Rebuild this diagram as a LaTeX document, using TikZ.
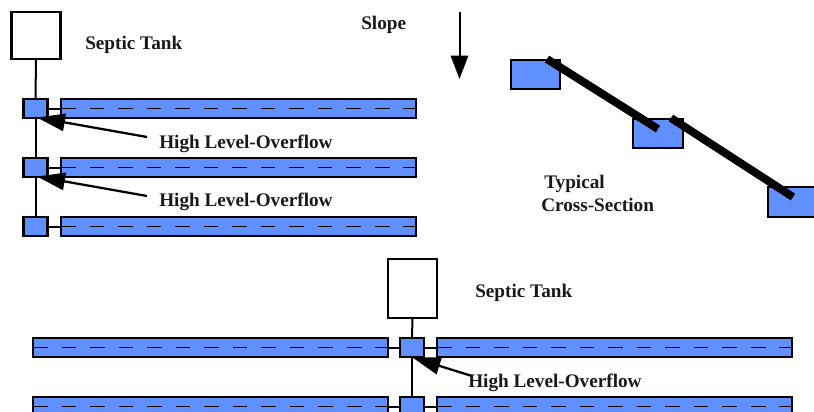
\documentclass[tikz,border=0pt]{standalone}
\usepackage{fontspec}
\setmainfont{Liberation Serif}
\usetikzlibrary{arrows.meta}
\definecolor{pipeblue}{RGB}{96,144,255}
\tikzset{
  px/.style={x=0.75pt,y=-0.75pt},
  tank/.style={draw=black,fill=white,line width=1.9pt,inner sep=0,outer sep=0},
  bluebox/.style={draw=black,fill=pipeblue,line width=1.9pt,inner sep=0,outer sep=0},
  pipe/.style={draw=black,line width=1.5pt},
  dashpipe/.style={draw=black,line width=1pt,dash pattern=on 11pt off 10.4pt},
  thick bar/.style={draw=black,line width=6pt},
  overflow/.style={draw=black,line width=1.7pt,-{Triangle[length=21pt,width=13pt]}},
  label/.style={font=\bfseries\fontsize{14.4pt}{16pt}\selectfont,text=black!90,anchor=base west,inner sep=0},
}
\newcommand{\pxbox}[6]{\node[#1,minimum width=#4*0.75pt,minimum height=#5*0.75pt,anchor=north west] (#2) at #3 {};}
\begin{document}
\begin{tikzpicture}[px]
\useasboundingbox (0,0) rectangle (814,411);
\clip (0,0) rectangle (814,411);
% top-left system
\pxbox{tank}{tA}{(11.5,12)}{49}{47}{}
\pxbox{bluebox}{a1}{(23.5,99)}{24}{19}{}
\pxbox{bluebox}{a2}{(23.5,158)}{24}{19}{}
\pxbox{bluebox}{a3}{(23.5,217)}{24}{19}{}
\pxbox{bluebox}{b1}{(61,99)}{355}{19}{}
\pxbox{bluebox}{b2}{(61,158)}{355}{19}{}
\pxbox{bluebox}{b3}{(61,217)}{355}{19}{}
\draw[pipe] (tA.south) -- (a1.north);
\draw[pipe] (a1.south) -- (a2.north);
\draw[pipe] (a2.south) -- (a3.north);
\draw[pipe] (a1.east) -- (b1.west);
\draw[pipe] (a2.east) -- (b2.west);
\draw[pipe] (a3.east) -- (b3.west);
\draw[dashpipe] (b1.west) -- (b1.east);
\draw[dashpipe] (b2.west) -- (b2.east);
\draw[dashpipe] (b3.west) -- (b3.east);
\node[label] (st1) at (85,49) {Septic Tank};
\node[label] (hl1) at (159,148) {High Level-Overflow};
\node[label] (hl2) at (159,206) {High Level-Overflow};
\coordinate (o1) at (147,137);
\coordinate (o2) at (147,196);
\coordinate (t1) at (37,117.5);
\coordinate (t2) at (37,176.5);
\draw[overflow] (o1) -- (t1);
\draw[overflow] (o2) -- (t2);
% slope
\node[label] (sl) at (361,29) {Slope};
\coordinate (s0) at (459.5,12);
\coordinate (s1) at (459.5,79);
\draw[draw=black,line width=1.5pt,-{Triangle[length=17.5pt,width=13pt]}] (s0) -- (s1);
% cross-section
\pxbox{bluebox}{c1}{(511,60)}{49}{29}{}
\pxbox{bluebox}{c2}{(633,119)}{50}{29}{}
\pxbox{bluebox}{c3}{(768,187)}{50}{30}{}
\coordinate (l1) at (547,59);
\coordinate (l2) at (658,129);
\coordinate (l3) at (671,118);
\coordinate (l4) at (793,197);
\draw[thick bar] (l1) -- (l2);
\draw[thick bar] (l3) -- (l4);
\node[label] (ty) at (544,188) {Typical};
\node[label] (cs) at (541,211) {Cross-Section};
% bottom system
\pxbox{tank}{tB}{(388,259)}{49}{59}{}
\pxbox{bluebox}{d1}{(400,338)}{24}{19}{}
\pxbox{bluebox}{d2}{(400,397)}{24}{19}{}
\pxbox{bluebox}{e1}{(33,338)}{355}{19}{}
\pxbox{bluebox}{f1}{(437,338)}{355}{19}{}
\pxbox{bluebox}{e2}{(33,397)}{355}{19}{}
\pxbox{bluebox}{f2}{(437,397)}{355}{19}{}
\draw[pipe] (tB.south) -- (d1.north);
\draw[pipe] (d1.south) -- (d2.north);
\draw[pipe] (d1.west) -- (e1.east);
\draw[pipe] (d1.east) -- (f1.west);
\draw[pipe] (d2.west) -- (e2.east);
\draw[pipe] (d2.east) -- (f2.west);
\draw[dashpipe] (e1.west) -- (e1.east);
\draw[dashpipe] (f1.west) -- (f1.east);
\draw[dashpipe] (e2.west) -- (e2.east);
\draw[dashpipe] (f2.west) -- (f2.east);
\node[label] (st2) at (475,297) {Septic Tank};
\coordinate (o3) at (472,376);
\coordinate (t3) at (412.5,357.5);
\draw[overflow] (o3) -- (t3);
\node[label] (hl3) at (468,387) {High Level-Overflow};
\end{tikzpicture}
\end{document}
